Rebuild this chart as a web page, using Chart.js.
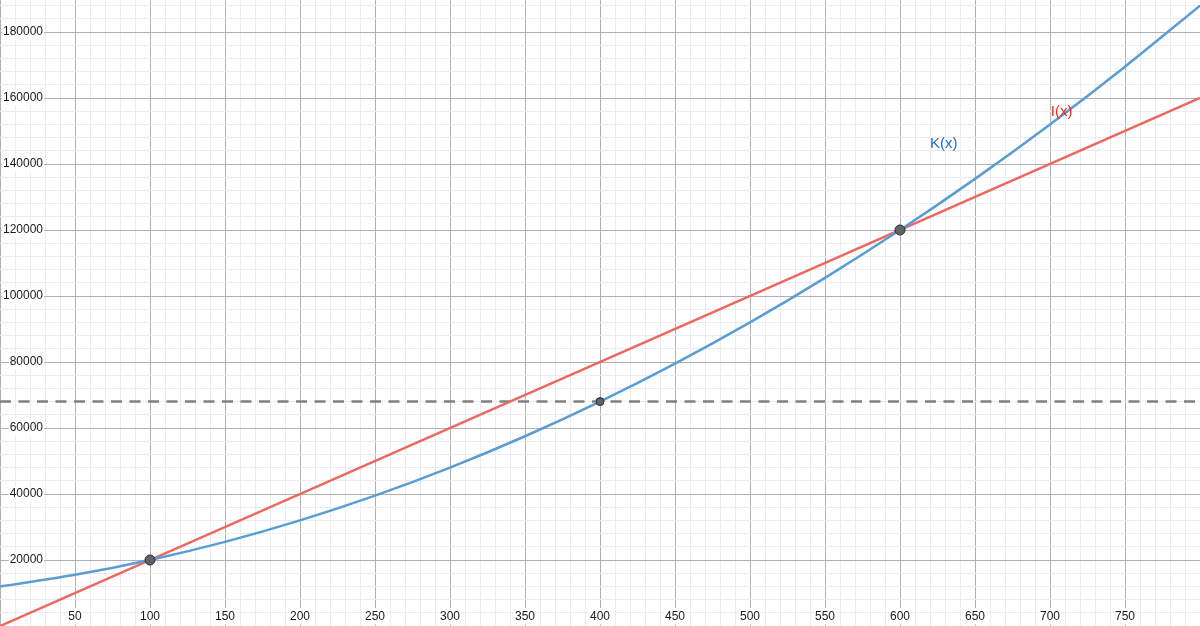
<!DOCTYPE html>
<html>
<head>
<meta charset="utf-8">
<script src="https://cdn.jsdelivr.net/npm/chart.js@4.4.1/dist/chart.umd.min.js"></script>
<style>
  html, body { margin: 0; padding: 0; background: #fff; }
  #wrap { width: 1200px; height: 626px; }
</style>
</head>
<body>
<div id="wrap"><canvas id="chart"></canvas></div>
<script>
// K(x) every 50 units
const kX = [0, 50, 100, 150, 200, 250, 300, 350, 400, 450, 500, 550, 600, 650, 700, 750, 800];
const kY = [12000, 15500, 20000, 25500, 32000, 39500, 48000, 57500, 68000, 79500, 92000, 105500, 120000, 135500, 152000, 169500, 188000];

// I(x) straight line
const iX = [0, 800];
const iY = [0, 160000];

// horizontal dashed level
const levelY = 68000;

// marked points
const ptX = [100, 400, 600];
const ptY = [20000, 68000, 120000];

// axis labels
const xTickLabels = [50, 100, 150, 200, 250, 300, 350, 400, 450, 500, 550, 600, 650, 700, 750];
const yTickLabels = [20000, 40000, 60000, 80000, 100000, 120000, 140000, 160000, 180000];

// function name labels (data coordinates)
const fnLabels = ['K(x)', 'I(x)'];
const fnLabelX = [620, 700.5];
const fnLabelY = [146000, 155800];

const BLUE = 'rgb(90,156,212)';
const RED = 'rgb(236,104,94)';
const MAJOR = 'rgb(176,176,182)';
const MINOR = 'rgb(236,236,240)';
const FONT = 'Liberation Sans, Arial, sans-serif';

const toPts = (xs, ys) => xs.map((x, i) => ({ x, y: ys[i] }));

// major grid every 50 / 20000, five minor steps in between
function gridTicks(max, step) {
  return (scale) => {
    const t = [];
    for (let v = 0; v <= max; v += step) t.push({ value: v });
    scale.ticks = t;
  };
}

// axes lie on the canvas edges and take no room
function flatAxis(s) {
  if (s.isHorizontal()) s.height = 0; else s.width = 0;
  s.paddingTop = s.paddingBottom = s.paddingLeft = s.paddingRight = 0;
}

const fnLabelPlugin = {
  id: 'fnLabels',
  afterDatasetsDraw(chart) {
    const { ctx, scales } = chart;
    const colors = ['#1f6fc0', '#e0301e'];
    ctx.save();
    ctx.font = '15px ' + FONT;
    ctx.textBaseline = 'middle';
    ctx.textAlign = 'left';
    fnLabels.forEach((t, i) => {
      ctx.fillStyle = colors[i];
      ctx.fillText(t, scales.x.getPixelForValue(fnLabelX[i]), scales.y.getPixelForValue(fnLabelY[i]));
    });
    ctx.restore();
  }
};

new Chart(document.getElementById('chart'), {
  type: 'scatter',
  data: {
    datasets: [
      {
        data: toPts(ptX, ptY),
        backgroundColor: '#636363',
        borderColor: '#2a2a2a',
        borderWidth: 1,
        pointRadius: [5, 4, 5],
        order: 0
      },
      {
        data: toPts(kX, kY),
        showLine: true,
        borderColor: BLUE,
        borderWidth: 2.5,
        pointRadius: 0,
        cubicInterpolationMode: 'monotone',
        order: 1
      },
      {
        data: toPts(iX, iY),
        showLine: true,
        borderColor: RED,
        borderWidth: 2.5,
        pointRadius: 0,
        order: 2
      },
      {
        data: toPts([0, 800], [levelY, levelY]),
        showLine: true,
        borderColor: 'rgb(128,128,128)',
        borderWidth: 2.5,
        borderDash: [11, 7.5],
        pointRadius: 0,
        order: 3
      }
    ]
  },
  options: {
    responsive: true,
    maintainAspectRatio: false,
    animation: false,
    layout: { padding: 0, autoPadding: false },
    plugins: {
      legend: { display: false },
      tooltip: { enabled: false }
    },
    scales: {
      x: {
        type: 'linear',
        position: 'bottom',
        min: 0,
        max: 800,
        afterBuildTicks: gridTicks(800, 10),
        afterFit: flatAxis,
        border: { display: false },
        grid: {
          drawTicks: false,
          color: c => (c.tick && c.tick.value % 50 === 0) ? MAJOR : MINOR
        },
        ticks: {
          autoSkip: false,
          maxRotation: 0,
          minRotation: 0,
          mirror: true,
          padding: 2.5,
          color: '#1a1a1a',
          font: { family: FONT, size: 12 },
          showLabelBackdrop: c => xTickLabels.includes(c.tick.value),
          backdropColor: '#fff',
          backdropPadding: 1,
          callback: v => xTickLabels.includes(v) ? String(v) : ''
        }
      },
      y: {
        type: 'linear',
        position: 'left',
        min: 0,
        max: 189700,
        afterBuildTicks: gridTicks(189700, 4000),
        afterFit: flatAxis,
        border: { display: false },
        grid: {
          drawTicks: false,
          color: c => (c.tick && c.tick.value % 20000 === 0) ? MAJOR : MINOR
        },
        ticks: {
          autoSkip: false,
          mirror: true,
          crossAlign: 'far',
          padding: 3,
          color: '#1a1a1a',
          font: { family: FONT, size: 12 },
          showLabelBackdrop: c => yTickLabels.includes(c.tick.value),
          backdropColor: '#fff',
          backdropPadding: 1,
          callback: v => yTickLabels.includes(v) ? String(v) : ''
        }
      }
    }
  },
  plugins: [fnLabelPlugin]
});
</script>
</body>
</html>
